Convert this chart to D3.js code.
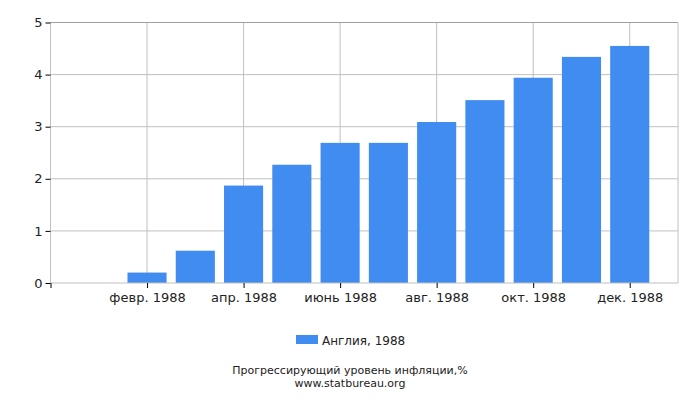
<!DOCTYPE html>
<html>
<head>
<meta charset="utf-8">
<script src="https://cdn.jsdelivr.net/npm/d3@7"></script>
<style>
  body { margin: 0; background: #fff; }
  svg { font-family: "DejaVu Sans", sans-serif; }
</style>
</head>
<body>
<div id="chart"></div>
<script>
// data
const months = ['янв. 1988', 'февр. 1988', 'март 1988', 'апр. 1988', 'май 1988', 'июнь 1988',
    'июль 1988', 'авг. 1988', 'сент. 1988', 'окт. 1988', 'нояб. 1988', 'дек. 1988'];
const values = [0, 0.2, 0.62, 1.87, 2.27, 2.69, 2.69, 3.09, 3.51, 3.94, 4.34, 4.55];
const yTicks = [0, 1, 2, 3, 4, 5];
const seriesName = 'Англия, 1988';
const titleLines = ['Прогрессирующий уровень инфляции,%', 'www.statbureau.org'];

const width = 700, height = 400;
const margin = { top: 22.5, right: 22, bottom: 117, left: 50.5 };
const innerW = width - margin.left - margin.right;
const innerH = height - margin.top - margin.bottom;

const svg = d3.select('#chart').append('svg')
    .attr('width', width)
    .attr('height', height);

const g = svg.append('g')
    .attr('transform', `translate(${margin.left},${margin.top})`);

// one extra month of padding on each side
const x = d3.scaleLinear().domain([-1, months.length]).range([0, innerW]);
const y = d3.scaleLinear().domain([0, 5]).range([innerH, 0]);
const barW = (x(1) - x(0)) * 0.81;

// grid
g.append('g').selectAll('line')
    .data(yTicks.slice(1))
    .join('line')
    .attr('x1', 0).attr('x2', innerW)
    .attr('y1', d => y(d)).attr('y2', d => y(d))
    .attr('stroke', '#c0c0c0');

const labelIdx = d3.range(1, months.length, 2);
g.append('g').selectAll('line')
    .data(labelIdx)
    .join('line')
    .attr('x1', d => x(d)).attr('x2', d => x(d))
    .attr('y1', 0).attr('y2', innerH)
    .attr('stroke', '#c0c0c0');

// frame
g.append('line').attr('x1', 0).attr('x2', innerW).attr('y1', 0).attr('y2', 0).attr('stroke', '#a0a0a0');
g.append('line').attr('x1', innerW).attr('x2', innerW).attr('y1', 0).attr('y2', innerH).attr('stroke', '#c0c0c0');
g.append('line').attr('x1', 0).attr('x2', 0).attr('y1', 0).attr('y2', innerH).attr('stroke', '#c0c0c0');

// bars
g.append('g').selectAll('rect')
    .data(values)
    .join('rect')
    .attr('x', (d, i) => x(i) - barW / 2)
    .attr('width', barW)
    .attr('y', d => y(d))
    .attr('height', d => innerH - y(d))
    .attr('fill', '#418cf0');

// baseline
g.append('line').attr('x1', 0).attr('x2', innerW).attr('y1', innerH).attr('y2', innerH).attr('stroke', '#c0c0c0');

// y axis
const yAxis = g.append('g')
    .call(d3.axisLeft(y).tickValues(yTicks).tickSize(5).tickPadding(3).tickFormat(d3.format('d')));
yAxis.select('.domain').remove();
yAxis.selectAll('.tick line').attr('stroke', '#000');
yAxis.selectAll('text').attr('font-size', 13).attr('font-family', 'DejaVu Sans').attr('fill', '#222');

// x axis
const xAxis = g.append('g')
    .attr('transform', `translate(0,${innerH})`)
    .call(d3.axisBottom(x).tickValues([-1, ...labelIdx]).tickSize(5).tickPadding(5)
        .tickFormat(d => d < 0 ? '' : months[d]));
xAxis.select('.domain').remove();
xAxis.selectAll('.tick line').attr('stroke', '#000');
xAxis.selectAll('text').attr('font-size', 13).attr('font-family', 'DejaVu Sans').attr('fill', '#222');

// legend
const legend = svg.append('g').attr('transform', 'translate(296,335)');
legend.append('rect').attr('width', 22).attr('height', 9).attr('fill', '#418cf0');
legend.append('text').attr('x', 26).attr('y', 9.5)
    .attr('font-size', 12).attr('fill', '#222').text(seriesName);

// title
svg.append('g').selectAll('text')
    .data(titleLines)
    .join('text')
    .attr('x', width / 2)
    .attr('y', (d, i) => 374 + i * 13)
    .attr('text-anchor', 'middle')
    .attr('font-size', 11)
    .attr('fill', '#222')
    .text(d => d);
</script>
</body>
</html>
